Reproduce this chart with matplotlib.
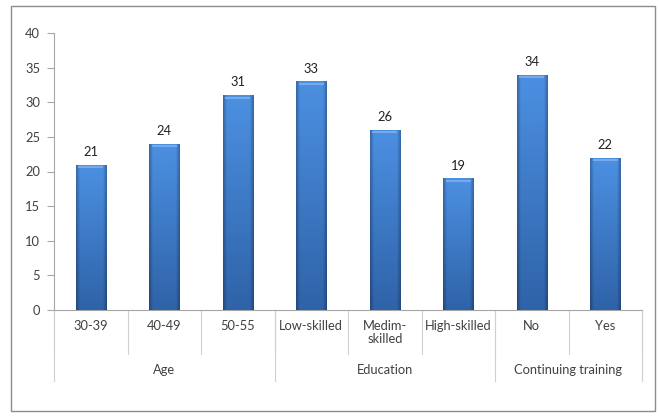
import numpy as np
import matplotlib.pyplot as plt
from matplotlib.patches import Rectangle
from matplotlib.colors import to_rgb

# Datos
categorias = ["30-39", "40-49", "50-55", "Low-skilled", "Medim-\nskilled",
              "High-skilled", "No", "Yes"]
valores = [21, 24, 31, 33, 26, 19, 34, 22]
grupos = ["Age", "Education", "Continuing training"]
tam_grupos = [3, 3, 2]

plt.rcParams['font.family'] = ['Lato', 'DejaVu Sans']
gris_txt = "#404040"
gris_lin = "#a6a6a6"
fs = 9.3

fig = plt.figure(figsize=(6.59, 4.16), dpi=100)
ax = fig.add_axes([54 / 659, 1 - 310 / 416, (642 - 54) / 659, (310 - 33) / 416])

x = np.arange(len(valores))
barras = ax.bar(x, valores, width=0.41, color="#3b78c4", edgecolor="#3466aa",
                linewidth=0.6, zorder=2)

# Degradado tipo Excel: arriba claro, abajo oscuro, bordes sombreados
arriba = np.array(to_rgb("#4c90e2"))
abajo = np.array(to_rgb("#2f63a8"))
t = np.linspace(0, 1, 100)[:, None, None]
base = arriba * (1 - t) + abajo * t
u = np.linspace(-1, 1, 60)
borde = 1 - 0.28 * np.clip((np.abs(u) - 0.75) / 0.25, 0, 1)
img = np.clip(base * borde[None, :, None], 0, 1)

for b in barras:
    x0, w, h = b.get_x(), b.get_width(), b.get_height()
    im = ax.imshow(img, aspect="auto", extent=[x0, x0 + w, 0, h],
                   zorder=3, interpolation="bilinear", origin="upper")
    im.set_clip_path(b)
    ax.add_patch(Rectangle((x0 + w * 0.08, h - 0.5), w * 0.84, 0.3,
                           color="#78aaea", lw=0, zorder=4))

for xi, v in zip(x, valores):
    ax.text(xi, v + 1.0, str(v), ha="center", va="bottom", fontsize=fs,
            color="#202020")

ax.set_xlim(-0.5, len(valores) - 0.5)
ax.set_ylim(0, 40)
ax.set_yticks(range(0, 41, 5))
ax.tick_params(axis="y", colors=gris_lin, labelcolor=gris_txt, labelsize=fs,
               length=5, width=0.8, pad=5)
ax.set_xticks([])
for s in ["top", "right"]:
    ax.spines[s].set_visible(False)
for s in ["left", "bottom"]:
    ax.spines[s].set_color(gris_lin)
    ax.spines[s].set_linewidth(0.8)

# Eje de categorías en dos niveles
tr = ax.get_xaxis_transform()
alto = 310 - 33
def yfrac(py):
    return -(py - 310) / alto

for i in range(len(valores) + 1):
    ax.plot([i - 0.5, i - 0.5], [0, yfrac(354)], transform=tr, color="#d0d0d0",
            lw=0.8, clip_on=False)
for i, c in enumerate(categorias):
    ax.text(i, yfrac(320), c, transform=tr, ha="center", va="top",
            fontsize=fs, color=gris_txt, linespacing=1.1)

inicio = 0
for g, n in zip(grupos, tam_grupos):
    ax.plot([inicio - 0.5, inicio - 0.5], [0, yfrac(381)], transform=tr,
            color="#d0d0d0", lw=0.8, clip_on=False)
    ax.text(inicio + (n - 1) / 2, yfrac(364), g, transform=tr, ha="center",
            va="top", fontsize=fs, color=gris_txt)
    inicio += n
ax.plot([inicio - 0.5, inicio - 0.5], [0, yfrac(381)], transform=tr,
        color="#d0d0d0", lw=0.8, clip_on=False)

# Marco exterior
fig.patches.append(Rectangle((11 / 659, 1 - 411 / 416), (655 - 11) / 659,
                             (411 - 6) / 416, transform=fig.transFigure,
                             fill=False, edgecolor="#8c8c8c", lw=1.0))

plt.savefig("out.png", dpi=100)
